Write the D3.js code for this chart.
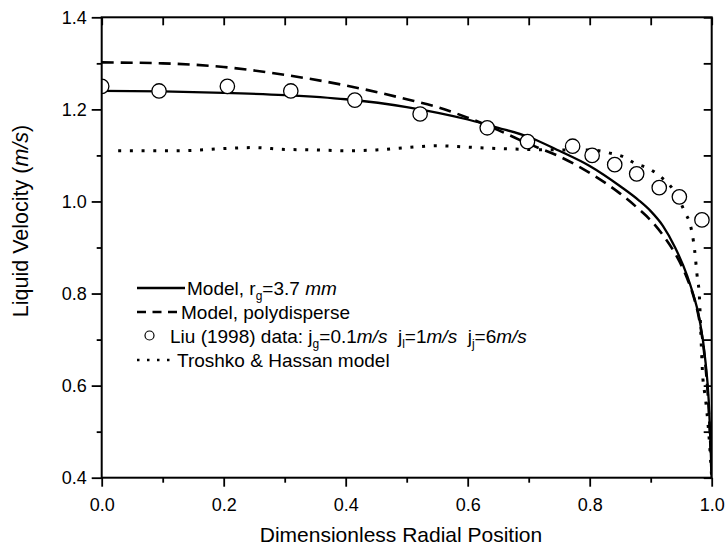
<!DOCTYPE html>
<html>
<head>
<meta charset="utf-8">
<script src="https://cdn.jsdelivr.net/npm/d3@7"></script>
<style>
  body { margin: 0; background: #fff; }
  svg { font-family: "Liberation Sans", Arial, sans-serif; }
  text { white-space: pre; }
</style>
</head>
<body>
<div class="chart"></div>
<script>
// Liu (1998) data points
var liuX = [0.0, 0.094, 0.206, 0.31, 0.415, 0.522, 0.632, 0.698, 0.772, 0.804, 0.841, 0.877, 0.914, 0.947, 0.984];
var liuY = [1.25, 1.24, 1.25, 1.24, 1.22, 1.19, 1.16, 1.13, 1.12, 1.10, 1.08, 1.06, 1.03, 1.01, 0.96];

// Model, rg = 3.7 mm
var modelX = [0, 0.1, 0.2, 0.3, 0.4, 0.5, 0.6, 0.65, 0.7, 0.75, 0.8, 0.85, 0.88, 0.9, 0.92, 0.94, 0.96, 0.97, 0.98, 0.99, 0.995, 1.0];
var modelY = [1.24, 1.239, 1.236, 1.231, 1.222, 1.205, 1.178, 1.16, 1.14, 1.11, 1.077, 1.033, 1.003, 0.979, 0.947, 0.9, 0.838, 0.797, 0.745, 0.65, 0.57, 0.40];

// Model, polydisperse
var polyX = [0, 0.1, 0.2, 0.3, 0.4, 0.5, 0.55, 0.6, 0.65, 0.7, 0.75, 0.8, 0.85, 0.88, 0.9, 0.92, 0.94, 0.96, 0.97, 0.98, 0.99, 0.995, 1.0];
var polyY = [1.302, 1.3, 1.292, 1.275, 1.252, 1.222, 1.205, 1.182, 1.155, 1.125, 1.098, 1.062, 1.017, 0.984, 0.959, 0.927, 0.887, 0.832, 0.795, 0.74, 0.64, 0.55, 0.40];

// Troshko & Hassan model
var thX = [0.027, 0.1, 0.15, 0.2, 0.25, 0.3, 0.35, 0.4, 0.45, 0.5, 0.55, 0.6, 0.65, 0.7, 0.75, 0.8, 0.833, 0.855, 0.874, 0.896, 0.916, 0.935, 0.948, 0.957, 0.965, 0.972, 0.976, 0.98, 0.982, 0.985, 0.99, 0.995, 1.0];
var thY = [1.11, 1.11, 1.111, 1.115, 1.117, 1.113, 1.112, 1.11, 1.112, 1.117, 1.121, 1.118, 1.115, 1.113, 1.112, 1.112, 1.105, 1.097, 1.083, 1.072, 1.054, 1.029, 1.0, 0.974, 0.949, 0.894, 0.84, 0.79, 0.72, 0.627, 0.57, 0.50, 0.40];

var xMajor = [0, 0.2, 0.4, 0.6, 0.8, 1.0];
var xMinor = [0.1, 0.3, 0.5, 0.7, 0.9];
var yMajor = [0.4, 0.6, 0.8, 1.0, 1.2, 1.4];
var yMinor = [0.5, 0.7, 0.9, 1.1, 1.3];

var width = 725, height = 548;
var margin = { left: 101.7, right: 13.3, top: 17.3, bottom: 70.3 };
var plotW = width - margin.left - margin.right,
	plotH = height - margin.top - margin.bottom;

var svg = d3.select(".chart")
	.append("svg")
		.attr("width", width)
		.attr("height", height);

var g = svg.append("g")
	.attr("transform", "translate(" + margin.left + "," + margin.top + ")");

var x = d3.scaleLinear().domain([0, 1]).range([0, plotW]);
var y = d3.scaleLinear().domain([0.4, 1.4]).range([plotH, 0]);

g.append("clipPath").attr("id", "clip")
	.append("rect").attr("width", plotW).attr("height", plotH);

var plot = g.append("g").attr("clip-path", "url(#clip)");

function makeLine(xs, ys) {
	return d3.line()
		.x(function(d, i) { return x(xs[i]); })
		.y(function(d, i) { return y(ys[i]); })
		.curve(d3.curveMonotoneX)(xs);
}

// Troshko & Hassan (dotted)
plot.append("path")
	.attr("d", makeLine(thX, thY))
	.attr("fill", "none")
	.attr("stroke", "#000")
	.attr("stroke-width", 3)
	.attr("stroke-dasharray", "3,8.7");

// polydisperse (dashed)
plot.append("path")
	.attr("d", makeLine(polyX, polyY))
	.attr("fill", "none")
	.attr("stroke", "#000")
	.attr("stroke-width", 2.6)
	.attr("stroke-dasharray", "12,7");

// model (solid)
plot.append("path")
	.attr("d", makeLine(modelX, modelY))
	.attr("fill", "none")
	.attr("stroke", "#000")
	.attr("stroke-width", 2.3);

// data circles
plot.selectAll("circle.liu")
	.data(liuX)
	.enter()
	.append("circle")
		.attr("class", "liu")
		.attr("cx", function(d) { return x(d); })
		.attr("cy", function(d, i) { return y(liuY[i]); })
		.attr("r", 7.2)
		.attr("fill", "#fff")
		.attr("stroke", "#000")
		.attr("stroke-width", 1.3);

// axes
function styleAxis(sel) {
	sel.select(".domain").remove();
	sel.selectAll(".tick line").attr("stroke", "#000").attr("stroke-width", 1.8);
	sel.selectAll(".tick text").attr("fill", "#000").attr("font-size", "18px")
		.attr("font-family", "'Liberation Sans', Arial, sans-serif");
}

g.append("g").attr("transform", "translate(0," + plotH + ")")
	.call(d3.axisBottom(x).tickValues(xMajor).tickSize(9).tickPadding(12).tickFormat(d3.format(".1f")))
	.call(styleAxis);
g.append("g").attr("transform", "translate(0," + plotH + ")")
	.call(d3.axisBottom(x).tickValues(xMinor).tickSize(5).tickFormat(""))
	.call(styleAxis);
g.append("g")
	.call(d3.axisLeft(y).tickValues(yMajor).tickSize(10).tickPadding(5).tickFormat(d3.format(".1f")))
	.call(styleAxis);
g.append("g")
	.call(d3.axisLeft(y).tickValues(yMinor).tickSize(5).tickFormat(""))
	.call(styleAxis);
g.append("g")
	.call(d3.axisBottom(x).tickValues(xMajor.concat(xMinor)).tickSize(8).tickFormat(""))
	.call(styleAxis);
g.append("g").attr("transform", "translate(" + plotW + ",0)")
	.call(d3.axisLeft(y).tickValues(yMajor.concat(yMinor)).tickSize(8).tickFormat(""))
	.call(styleAxis);

// frame
g.append("rect")
	.attr("width", plotW)
	.attr("height", plotH)
	.attr("fill", "none")
	.attr("stroke", "#000")
	.attr("stroke-width", 2);

// axis titles
svg.append("text")
	.attr("x", 401)
	.attr("y", 542)
	.attr("text-anchor", "middle")
	.attr("font-size", "21px")
	.text("Dimensionless Radial Position");

var yTitle = svg.append("text")
	.attr("transform", "translate(28,221) rotate(-90)")
	.attr("text-anchor", "middle")
	.attr("font-size", "21.5px");
yTitle.append("tspan").text("Liquid Velocity (");
yTitle.append("tspan").attr("font-style", "italic").text("m/s");
yTitle.append("tspan").text(")");

// legend
var leg = svg.append("g");
leg.append("line").attr("x1", 137).attr("x2", 185).attr("y1", 288).attr("y2", 288)
	.attr("stroke", "#000").attr("stroke-width", 2.3);
leg.append("line").attr("x1", 137).attr("x2", 177).attr("y1", 312).attr("y2", 312)
	.attr("stroke", "#000").attr("stroke-width", 2.3).attr("stroke-dasharray", "9,6.5");
leg.append("circle").attr("cx", 149.5).attr("cy", 335.5).attr("r", 4.5)
	.attr("fill", "#fff").attr("stroke", "#000").attr("stroke-width", 1.2);
leg.append("line").attr("x1", 137).attr("x2", 170).attr("y1", 360).attr("y2", 360)
	.attr("stroke", "#000").attr("stroke-width", 2.5).attr("stroke-dasharray", "2.5,7.5");

function sub(t, s) {
	t.append("tspan").attr("font-size", "12px").attr("dy", 5).text(s);
	return t.append("tspan").attr("dy", -5);
}

var t1 = leg.append("text").attr("x", 187).attr("y", 295).attr("font-size", "19px");
t1.append("tspan").text("Model, r");
sub(t1, "g").text("=3.7 ");
t1.append("tspan").attr("font-style", "italic").text("mm");

leg.append("text").attr("x", 181).attr("y", 319).attr("font-size", "19px")
	.text("Model, polydisperse");

var t3 = leg.append("text").attr("x", 170).attr("y", 343).attr("font-size", "19px");
t3.append("tspan").text("Liu (1998) data: j");
sub(t3, "g").text("=0.1");
t3.append("tspan").attr("font-style", "italic").text("m/s");
t3.append("tspan").text("  j");
sub(t3, "l").text("=1");
t3.append("tspan").attr("font-style", "italic").text("m/s");
t3.append("tspan").text("  j");
sub(t3, "j").text("=6");
t3.append("tspan").attr("font-style", "italic").text("m/s");

leg.append("text").attr("x", 177).attr("y", 367).attr("font-size", "19px")
	.text("Troshko & Hassan model");
</script>
</body>
</html>
